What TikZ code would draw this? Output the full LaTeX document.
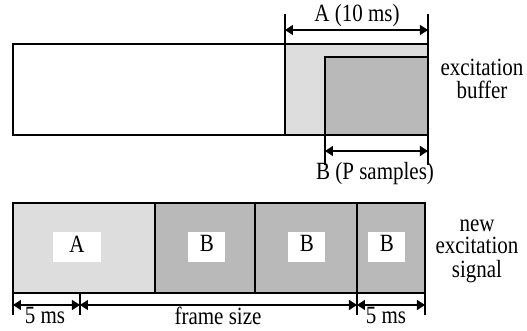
\documentclass[tikz,border=0pt]{standalone}
\usepackage{xcolor}
\usepackage{graphicx}
\usepackage{fontspec}
\setmainfont{Liberation Serif}
\usepackage{tikz}
\usetikzlibrary{arrows.meta}

\definecolor{lightfill}{HTML}{DDDDDD}
\definecolor{darkfill}{HTML}{B9B9B9}

% the reference lettering is a little taller than it is wide
\newcommand{\tallbox}[1]{\scalebox{1}[1.18]{\begin{tabular}{@{}c@{}}#1\end{tabular}}}

\tikzset{
  dimline/.style={{Triangle[length=4pt,width=5pt]}-{Triangle[length=4pt,width=5pt]}, line width=0.7pt},
  tickline/.style={line width=0.6pt},
  seglabel/.style={fill=white, minimum height=15pt, inner sep=0pt},
  sidetext/.style={inner sep=0pt}
}

\begin{document}
\begin{tikzpicture}[x=0.5pt, y=-0.5pt, line width=0.75pt, font=\fontsize{10.5}{8.9}\selectfont]
          \useasboundingbox (0,0) rectangle (527,331);

          % excitation buffer
          \draw (13,44) rectangle (285,135);
          \draw [fill=lightfill] (285,44) rectangle (428,135);
          \draw [fill=darkfill] (325,57) rectangle (428,135);
          \node[sidetext] (buf) at (482,82) {\tallbox{excitation\\buffer}};

          \foreach \x\n in {285/ta1, 428/ta2}{%
            \coordinate (\n) at (\x,30);
            \draw [tickline] (\x,14) -- (\x,44);
          }
          \foreach \x\n in {325/tb1, 428/tb2}{%
            \coordinate (\n) at (\x,151);
            \draw [tickline] (\x,135) -- (\x,165);
          }
          \draw [dimline] (ta1) -- (ta2);
          \draw [dimline] (tb1) -- (tb2);
          \node[sidetext] (lenA) at (357,16) {\tallbox{A (10 ms)}};
          \node[sidetext] (lenB) at (375,174) {\tallbox{B (P samples)}};

          % new excitation signal
          \draw [fill=lightfill] (13,203) rectangle (155,293);
          \foreach \x\y in {155/255, 255/357, 357/425}{%
            \draw [fill=darkfill] (\x,203) rectangle (\y,293);
          }
          \node[seglabel, minimum width=24pt] (segA) at (77,247) {\tallbox{A}};
          \foreach \x [count=\xi from 1] in {207, 307, 387}{%
            \node[seglabel, minimum width=18.5pt] (segB\xi) at (\x,247) {\tallbox{B}};
          }
          \node[sidetext] (sig) at (477,250) {\tallbox{new\\excitation\\signal}};

          \foreach \x [count=\xi from 1] in {13, 80, 357, 425}{%
            \coordinate (d\xi) at (\x,305);
            \draw [tickline] (\x,293) -- (\x,315);
          }
          \draw [dimline] (d1) -- (d2);
          \draw [dimline] (d2) -- (d3);
          \draw [dimline] (d3) -- (d4);
          \node[sidetext] (fiveL) at (45,319) {\tallbox{5 ms}};
          \node[sidetext] (frame) at (218,319) {\tallbox{frame size}};
          \node[sidetext] (fiveR) at (386,319) {\tallbox{5 ms}};
        \end{tikzpicture}
\end{document}
